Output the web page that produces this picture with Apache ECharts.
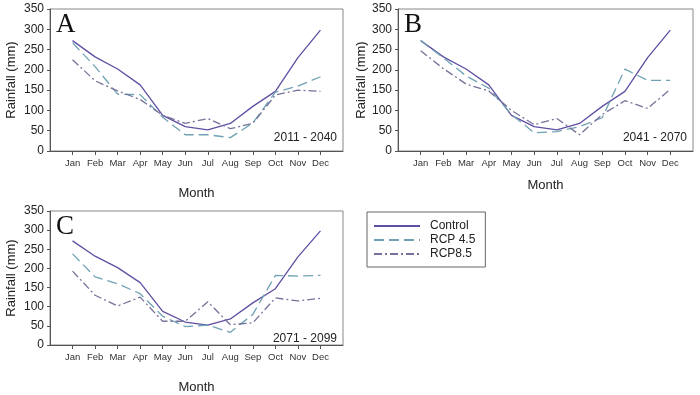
<!DOCTYPE html>
<html>
<head>
<meta charset="utf-8">
<script src="https://cdn.jsdelivr.net/npm/echarts@6/dist/echarts.min.js"></script>
<style>
  html, body { margin: 0; padding: 0; background: #fff; }
  #main { width: 700px; height: 395px; }
</style>
</head>
<body>
<div id="main"></div>
<script>
const months = ['Jan', 'Feb', 'Mar', 'Apr', 'May', 'Jun', 'Jul', 'Aug', 'Sep', 'Oct', 'Nov', 'Dec'];
const yTicks = [0, 50, 100, 150, 200, 250, 300, 350];

// control is the same in every panel
const control = [272, 232, 202, 163, 88, 60, 52, 68, 110, 147, 230, 298];

const rcp45A = [267, 208, 140, 139, 83, 40, 40, 33, 69, 145, 160, 183];
const rcp85A = [225, 173, 148, 127, 88, 68, 80, 55, 68, 138, 150, 147];

const rcp45B = [272, 230, 185, 155, 90, 45, 48, 60, 82, 202, 174, 174];
const rcp85B = [247, 203, 165, 148, 100, 65, 80, 40, 90, 124, 105, 152];

const rcp45C = [238, 178, 160, 134, 75, 48, 52, 33, 80, 182, 180, 182];
const rcp85C = [193, 130, 102, 125, 62, 62, 113, 53, 58, 123, 115, 122];

const panels = [
  { letter: 'A', period: '2011 - 2040', rcp45: rcp45A, rcp85: rcp85A },
  { letter: 'B', period: '2041 - 2070', rcp45: rcp45B, rcp85: rcp85B },
  { letter: 'C', period: '2071 - 2099', rcp45: rcp45C, rcp85: rcp85C }
];

const grids = [
  { left: 50, top: 9, width: 293, height: 142, xGap: 36, yGap: 32 },
  { left: 398, top: 9, width: 295, height: 142, xGap: 28, yGap: 30 },
  { left: 50, top: 211, width: 293, height: 141, xGap: 36, yGap: 32 }
];

const colControl = '#5f4fa2';
const col45 = '#6fa2b4';
const col85 = '#75729a';
const axisCol = '#555';
const font = 'Liberation Sans, Arial, sans-serif';

const chart = echarts.init(document.getElementById('main'), null, { renderer: 'canvas' });

const pts = arr => arr.map((v, i) => [i + 1, v]);

const option = {
  animation: false,
  backgroundColor: '#fff',
  grid: grids.map(g => ({
    left: g.left, top: g.top, width: g.width, height: g.height,
    show: true, borderColor: '#888', borderWidth: 1
  })),
  xAxis: grids.map((g, i) => ({
    type: 'value',
    gridIndex: i,
    min: 0, max: 13, interval: 1,
    name: 'Month',
    nameLocation: 'middle',
    nameGap: g.xGap,
    nameTextStyle: { fontSize: 13, color: '#222', fontFamily: font },
    splitLine: { show: false },
    axisLine: { lineStyle: { color: axisCol } },
    axisTick: {
      length: 4,
      lineStyle: { color: axisCol },
      customValues: months.map((m, k) => k + 1)
    },
    axisLabel: {
      fontSize: 9.5, color: '#333', fontFamily: font, margin: 7,
      customValues: months.map((m, k) => k + 1),
      formatter: v => months[v - 1] || ''
    }
  })),
  yAxis: grids.map((g, i) => ({
    type: 'value',
    gridIndex: i,
    min: 0, max: 350, interval: 50,
    name: 'Rainfall (mm)',
    nameLocation: 'middle',
    nameGap: g.yGap,
    nameTextStyle: { fontSize: 13, color: '#222', fontFamily: font },
    splitLine: { show: false },
    axisLine: { show: true, lineStyle: { color: axisCol } },
    axisTick: { show: true, length: 3, lineStyle: { color: axisCol } },
    axisLabel: {
      fontSize: 12, color: '#222', fontFamily: font, margin: 6,
      customValues: yTicks
    }
  })),
  legend: {
    orient: 'vertical',
    left: 367, top: 212,
    padding: [8, 10, 7, 6],
    itemGap: 2,
    itemWidth: 46,
    itemHeight: 12,
    borderColor: '#666',
    borderWidth: 1,
    itemStyle: { opacity: 0 },
    textStyle: { fontSize: 12, color: '#222', fontFamily: font, padding: [0, 0, 0, 5] },
    data: ['Control', 'RCP 4.5', 'RCP8.5']
  },
  title: panels.flatMap((p, i) => {
    const g = grids[i];
    return [
      {
        text: p.letter,
        left: g.left + 6, top: g.top + 2,
        padding: 0,
        textStyle: { fontSize: 27, fontWeight: 'normal', color: '#111', fontFamily: 'Liberation Serif, DejaVu Serif, serif' }
      },
      {
        text: p.period,
        right: 700 - (g.left + g.width) + 6,
        top: g.top + g.height - 19,
        padding: 0,
        textStyle: { fontSize: 12, fontWeight: 'normal', color: '#222', fontFamily: font }
      }
    ];
  }),
  series: panels.flatMap((p, i) => [
    {
      name: 'Control', type: 'line', xAxisIndex: i, yAxisIndex: i,
      symbol: 'none', data: pts(control),
      lineStyle: { color: colControl, width: 1.3 },
      itemStyle: { color: colControl }, z: 3
    },
    {
      name: 'RCP 4.5', type: 'line', xAxisIndex: i, yAxisIndex: i,
      symbol: 'none', data: pts(p.rcp45),
      lineStyle: { color: col45, width: 1.3, type: [10, 5] },
      itemStyle: { color: col45 }
    },
    {
      name: 'RCP8.5', type: 'line', xAxisIndex: i, yAxisIndex: i,
      symbol: 'none', data: pts(p.rcp85),
      lineStyle: { color: col85, width: 1.3, type: [8, 3, 2, 3] },
      itemStyle: { color: col85 }
    }
  ])
};

chart.setOption(option);
</script>
</body>
</html>
